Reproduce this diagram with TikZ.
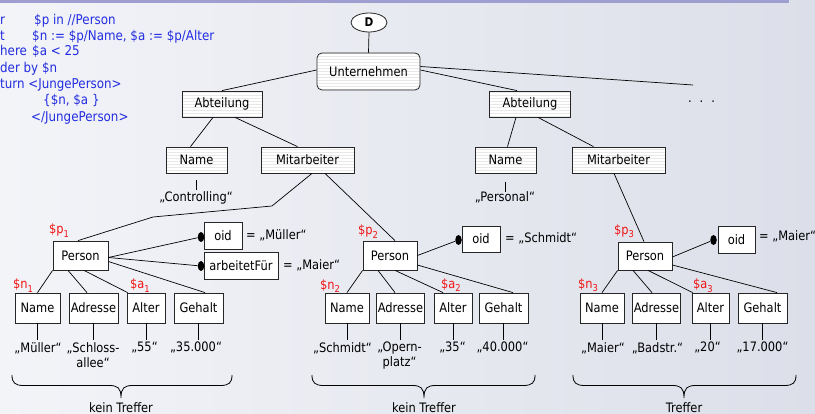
\documentclass[tikz,border=0pt]{standalone}
\usepackage{fontspec}
\setmainfont{DejaVu Sans}[FakeStretch=0.88]
\usetikzlibrary{shapes.geometric,patterns}
\definecolor{bgleft}{RGB}{243,244,248}
\definecolor{bgright}{RGB}{220,223,233}
\definecolor{band}{RGB}{158,158,208}
\definecolor{codeblue}{RGB}{35,45,225}
\definecolor{varred}{RGB}{240,20,20}
\newcommand\boxfont{\fontsize{13}{15}\selectfont}
\newcommand\codefont{\fontsize{13.5}{16}\selectfont}
\newcommand\lsub[1]{\raisebox{-0.45ex}{\fontsize{9.5}{10}\selectfont #1}}

\begin{document}
\begin{tikzpicture}[x=1pt,y=-1pt,
  box/.style={draw=black!85, fill=white, inner sep=0pt, line width=0.8pt, font=\boxfont},
  hbox/.style={box, preaction={fill=white}, pattern=horizontal lines, pattern color=black!9},
  bottombox/.style={box, minimum height=30pt},
  edge/.style={draw=black, line width=0.7pt},
  dotend/.style={ellipse, fill=black, inner sep=0pt, minimum width=6.5pt, minimum height=10pt},
  val/.style={inner sep=0pt, font=\boxfont, align=center, anchor=north},
  eqtext/.style={inner sep=0pt, font=\boxfont, anchor=west},
  var/.style={inner sep=0pt, font=\boxfont, text=varred, anchor=base west},
  code/.style={inner sep=0pt, font=\codefont, text=codeblue, anchor=base west},
  caption/.style={inner sep=0pt, font=\boxfont},
  bracepath/.style={draw=black, line width=0.8pt}
]
% canvas and background
\useasboundingbox (0,0) rectangle (815,414);
\shade[left color=bgleft, right color=bgright] (0,0) rectangle (815,414);
\fill[band] (0,0) rectangle (789,3.5);

% query text
\node[code] (k1) at (0,25) {r};
\node[code] (a1) at (34,25) {\$p in //Person};
\node[code] (k2) at (0,40.3) {t};
\node[code] (a2) at (32,40.3) {\$n := \$p/Name, \$a := \$p/Alter};
\node[code] (k3) at (0,56) {here};
\node[code] (a3) at (32,56) {\$a < 25};
\node[code] (k4) at (0,72.6) {der by \$n};
\node[code] (k5) at (0,88.3) {turn <JungePerson>};
\node[code] (a6) at (43,104.3) {\{\$n, \$a \}};
\node[code] (a7) at (31,121.6) {</JungePerson>};

% upper part of the tree
\node[draw=black!85, line width=0.8pt, fill=white, ellipse, minimum width=36pt, minimum height=19pt, inner sep=0pt,
      font=\fontsize{12}{12}\selectfont\bfseries] (d) at (369,22.5) {D};
\node[hbox, rounded corners=5pt, minimum width=103pt, minimum height=37pt] (unt) at (368.5,71.5) {Unternehmen};
\node[hbox, minimum width=80pt, minimum height=26pt] (abt1) at (222,104) {Abteilung};
\node[hbox, minimum width=81pt, minimum height=26pt] (abt2) at (530,104) {Abteilung};
\node[caption] (more) at (701.5,102) {.\hspace{8pt}.\hspace{8pt}.};
\coordinate (moreend) at (693,85);

\node[hbox, minimum width=61pt, minimum height=26pt] (name1) at (196.5,160) {Name};
\node[hbox, minimum width=93pt, minimum height=26pt] (mit1) at (307.5,160) {Mitarbeiter};
\node[hbox, minimum width=61pt, minimum height=26pt] (name2) at (505.5,160) {Name};
\node[hbox, minimum width=93pt, minimum height=26pt] (mit2) at (618.5,160) {Mitarbeiter};

\node[val] (vctrl) at (196,191) {„Controlling“};
\node[val] (vpers) at (505,191) {„Personal“};

\draw[edge] (d.south) -- (unt.north);
\draw[edge] ([yshift=1.5pt]unt.west) -- (abt1.north);
\draw[edge] ([yshift=1.5pt]unt.east) -- ([xshift=-13pt]abt2.north);
\draw[edge] ([yshift=5pt]unt.east) -- (moreend);
\draw[edge] ([xshift=-9pt]abt1.south) -- ([xshift=-6pt]name1.north);
\draw[edge] ([xshift=13pt]abt1.south) -- ([xshift=-10pt]mit1.north);
\draw[edge] ([xshift=-14pt]abt2.south) -- ([xshift=2pt]name2.north);
\draw[edge] ([xshift=8pt]abt2.south) -- ([xshift=-25pt]mit2.north);
\draw[edge] ([yshift=-7pt]name1.south) -- ++(0,10);
\draw[edge] ([yshift=-9pt]name2.south) -- ++(0,10);

% persons
\node[box, minimum width=55pt, minimum height=29pt] (p1) at (80.5,255.5) {Person};
\node[box, minimum width=54pt, minimum height=29pt] (p2) at (390,255.5) {Person};
\node[box, minimum width=54pt, minimum height=28pt] (p3) at (645,256) {Person};

\node[var] (lp1) at (49,234) {\$p\lsub{1}};
\node[var] (lp2) at (358,235) {\$p\lsub{2}};
\node[var] (lp3) at (614,234.5) {\$p\lsub{3}};

\draw[edge] ([xshift=4.5pt]mit1.south) -- (272,206) -- (153,217) -- ([xshift=-2.5pt]p1.north);
\draw[edge] ([xshift=17.5pt]mit1.south) -- ([xshift=5pt]p2.north);
\draw[edge] ([xshift=-4.5pt]mit2.south) -- ([xshift=-1pt]p3.north);

% oid and reference attributes
\node[box, minimum width=38pt, minimum height=27pt] (oid1) at (223,235.5) {oid};
\node[box, minimum width=74pt, minimum height=27pt] (arb1) at (241,265.5) {arbeitetFür};
\node[box, minimum width=38pt, minimum height=26pt] (oid2) at (481,239) {oid};
\node[box, minimum width=37pt, minimum height=27pt] (oid3) at (736.5,239.5) {oid};

\node[dotend] (dot1) at (201,237) {};
\node[dotend] (dot2) at (201,266) {};
\node[dotend] (dot3) at (458.5,240) {};
\node[dotend] (dot4) at (713.5,240) {};

\node[eqtext] (eq1) at (246,235) {= „Müller“};
\node[eqtext] (eq2) at (283,265) {= „Maier“};
\node[eqtext] (eq3) at (505,238) {= „Schmidt“};
\node[eqtext] (eq4) at (759,236) {= „Maier“};

\draw[edge] ([yshift=-2pt]p1.east) -- (dot1);
\draw[edge] ([yshift=-2pt]p1.east) -- (dot2);
\draw[edge] (p2.east) -- (dot3);
\draw[edge] ([yshift=-1pt]p3.east) -- (dot4);

% attribute boxes
\node[bottombox, minimum width=45pt] (nm1) at (37.5,308) {Name};
\node[bottombox, minimum width=49pt] (ad1) at (93.5,308) {Adresse};
\node[bottombox, minimum width=38pt] (al1) at (146,308) {Alter};
\node[bottombox, minimum width=49pt] (ge1) at (198.5,308) {Gehalt};

\node[bottombox, minimum width=44pt] (nm2) at (347,308) {Name};
\node[bottombox, minimum width=48pt] (ad2) at (400.5,308) {Adresse};
\node[bottombox, minimum width=38pt] (al2) at (453,308) {Alter};
\node[bottombox, minimum width=49pt] (ge2) at (503.5,308) {Gehalt};

\node[bottombox, minimum width=44pt] (nm3) at (602,308) {Name};
\node[bottombox, minimum width=48pt] (ad3) at (656.5,308) {Adresse};
\node[bottombox, minimum width=37pt] (al3) at (710.5,308) {Alter};
\node[bottombox, minimum width=49pt] (ge3) at (762.5,308) {Gehalt};

\node[var] (ln1) at (13,289) {\$n\lsub{1}};
\node[var] (la1) at (130,289) {\$a\lsub{1}};
\node[var] (ln2) at (320,289.5) {\$n\lsub{2}};
\node[var] (la2) at (441,288.5) {\$a\lsub{2}};
\node[var] (ln3) at (578,288.5) {\$n\lsub{3}};
\node[var] (la3) at (693,289) {\$a\lsub{3}};

\draw[edge] (p1.south west) -- (nm1.north);
\draw[edge] ([xshift=-12.5pt]p1.south) -- ([xshift=-6.5pt]ad1.north);
\draw[edge] ([xshift=3.5pt]p1.south) -- ([xshift=1pt]al1.north west);
\draw[edge] ([yshift=-6pt]p1.east) -- ([xshift=6.5pt]ge1.north);

\draw[edge] (p2.south west) -- (nm2.north);
\draw[edge] ([xshift=-12pt]p2.south) -- ([xshift=-5.5pt]ad2.north);
\draw[edge] ([xshift=5pt]p2.south) -- ([xshift=-10pt]al2.north);
\draw[edge] ([yshift=-9.5pt]p2.east) -- ([xshift=9.5pt]ge2.north);

\draw[edge] (p3.south west) -- (nm3.north);
\draw[edge] ([xshift=-12pt]p3.south) -- ([xshift=-4.5pt]ad3.north);
\draw[edge] ([xshift=3pt]p3.south) -- ([xshift=1pt]al3.north west);
\draw[edge] ([yshift=-9pt]p3.east) -- ([xshift=14.5pt]ge3.north);

% values
\foreach \b in {nm1,ad1,al1,ge1,nm2,ad2,al2,ge2,nm3,ad3,al3,ge3}
  \draw[edge] (\b.south) -- ++(0,17);

\node[val] (v11) at (38,342) {„Müller“};
\node[val] (v12) at (93,342) {„Schloss-\\allee“};
\node[val] (v13) at (144.5,342) {„55“};
\node[val] (v14) at (196,342) {„35.000“};
\node[val] (v21) at (342.5,342) {„Schmidt“};
\node[val] (v22) at (399.5,342) {„Opern-\\platz“};
\node[val] (v23) at (452.5,342) {„35“};
\node[val] (v24) at (502.5,342) {„40.000“};
\node[val] (v31) at (603,342) {„Maier“};
\node[val] (v32) at (657.5,342) {„Badstr.“};
\node[val] (v33) at (707.5,342) {„20“};
\node[val] (v34) at (762.5,342) {„17.000“};

% braces with results
\foreach \xa/\xm/\xb in {12/121/232, 312/424/535, 573/684/796}
  \draw[bracepath] (\xa,375) .. controls (\xa,383) and (\xa+3,385.5) .. (\xa+12,385.5)
    -- (\xm-12,385.5) .. controls (\xm-3,385.5) and (\xm,388) .. (\xm,398)
    .. controls (\xm,388) and (\xm+3,385.5) .. (\xm+12,385.5)
    -- (\xb-12,385.5) .. controls (\xb-3,385.5) and (\xb,383) .. (\xb,375);
\node[caption] (r1) at (121,407.5) {kein Treffer};
\node[caption] (r2) at (424,407.5) {kein Treffer};
\node[caption] (r3) at (684,407.5) {Treffer};
\end{tikzpicture}
\end{document}
